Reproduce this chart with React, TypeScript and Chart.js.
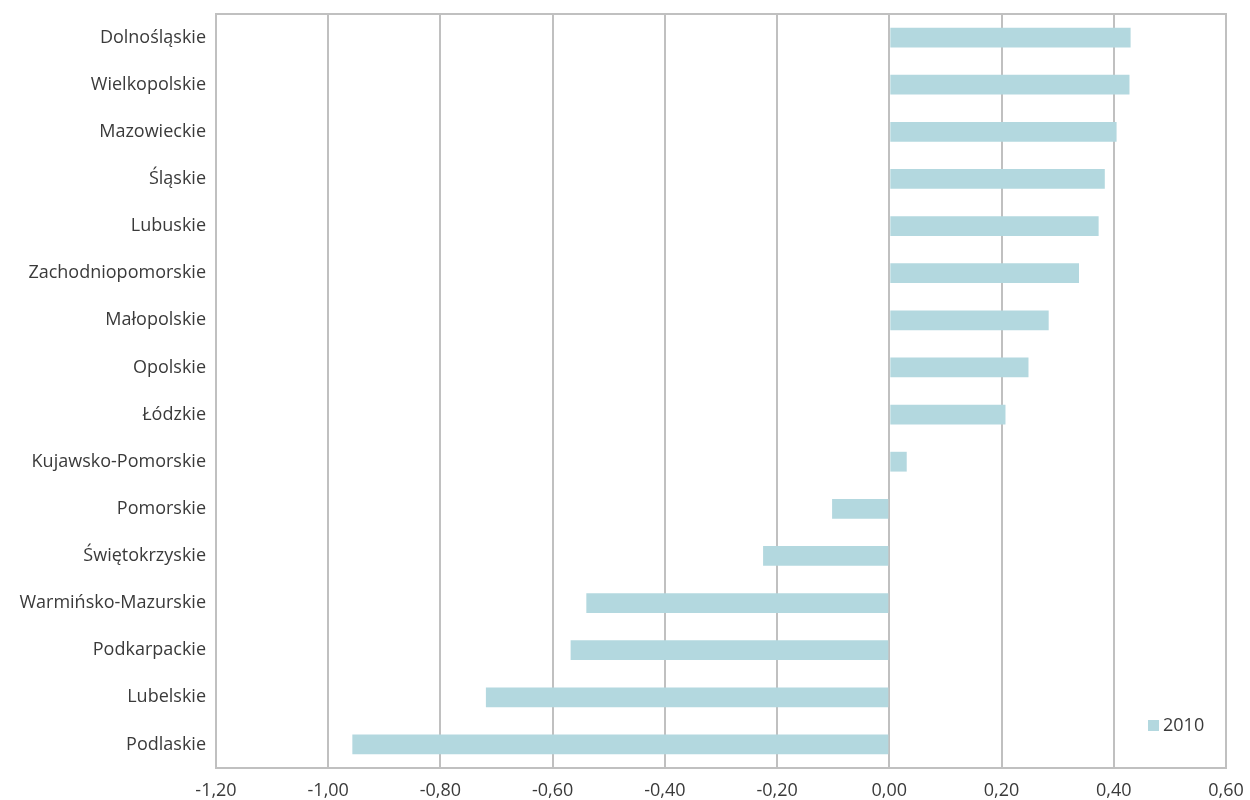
import React, { useEffect, useRef } from "react";
import { Chart, registerables } from "chart.js";

Chart.register(...registerables);

const categories = [
  "Dolnośląskie",
  "Wielkopolskie",
  "Mazowieckie",
  "Śląskie",
  "Lubuskie",
  "Zachodniopomorskie",
  "Małopolskie",
  "Opolskie",
  "Łódzkie",
  "Kujawsko-Pomorskie",
  "Pomorskie",
  "Świętokrzyskie",
  "Warmińsko-Mazurskie",
  "Podkarpackie",
  "Lubelskie",
  "Podlaskie",
];

const values2010 = [
  0.43, 0.428, 0.405, 0.384, 0.373, 0.338, 0.284, 0.248, 0.207, 0.031,
  -0.102, -0.225, -0.54, -0.568, -0.719, -0.957,
];

const seriesLabel = "2010";
const xMin = -1.2;
const xMax = 0.6;
const xStep = 0.2;

const FONT = "'Open Sans', Lato, sans-serif";
const TEXT = "#3a3a3a";
const GRID = "#c0c0c0";
const BAR = "#b3d8df";

export default function App() {
  const ref = useRef<HTMLCanvasElement | null>(null);

  useEffect(() => {
    if (!ref.current) return;
    const legendPlugin = {
      id: "insideLegend",
      afterDraw(chart: any) {
        const { ctx, chartArea } = chart;
        ctx.save();
        const x = chartArea.right - 78;
        const y = chartArea.bottom - 43;
        ctx.fillStyle = BAR;
        ctx.fillRect(x, y - 5, 11, 11);
        ctx.fillStyle = TEXT;
        ctx.font = `18px ${FONT}`;
        ctx.textBaseline = "middle";
        ctx.textAlign = "left";
        ctx.fillText(seriesLabel, x + 15, y + 1);
        ctx.restore();
      },
    };
    const borderPlugin = {
      id: "plotBorder",
      beforeDatasetsDraw(chart: any) {
        const { ctx, chartArea } = chart;
        ctx.save();
        ctx.strokeStyle = GRID;
        ctx.lineWidth = 2;
        ctx.strokeRect(
          chartArea.left,
          chartArea.top,
          chartArea.right - chartArea.left,
          chartArea.bottom - chartArea.top
        );
        ctx.restore();
      },
    };
    const chart = new Chart(ref.current, {
      type: "bar",
      data: {
        labels: categories,
        datasets: [
          {
            label: seriesLabel,
            data: values2010,
            backgroundColor: BAR,
            borderWidth: 0,
            barPercentage: 0.84,
            categoryPercentage: 0.5,
          },
        ],
      },
      options: {
        indexAxis: "y",
        animation: false,
        responsive: false,
        maintainAspectRatio: false,
        layout: { padding: { top: 14, right: 24, left: 0, bottom: 0 } },
        plugins: {
          legend: { display: false },
          tooltip: { enabled: false },
        },
        scales: {
          x: {
            min: xMin,
            max: xMax,
            ticks: {
              stepSize: xStep,
              color: TEXT,
              font: { family: FONT, size: 18 },
              padding: 12,
              callback: (v: any) => {
                const n = Math.abs(Number(v)) < 1e-9 ? 0 : Number(v);
                return n.toFixed(2).replace(".", ",");
              },
            },
            grid: { color: GRID, lineWidth: 2, drawTicks: false },
            border: { display: false },
            afterFit: (s: any) => {
              s.height = 32;
              s.paddingLeft = 0;
              s.paddingRight = 0;
            },
          },
          y: {
            ticks: {
              color: TEXT,
              font: { family: FONT, size: 18 },
              padding: 10,
            },
            grid: { display: false, drawTicks: false },
            border: { display: false },
            afterFit: (s: any) => {
              s.width = 216;
              s.paddingTop = 0;
              s.paddingBottom = 0;
            },
          },
        },
      },
      plugins: [borderPlugin, legendPlugin],
    });
    return () => chart.destroy();
  }, []);

  return (
    <div style={{ position: "absolute", left: 0, top: 0, width: 1250, height: 800, background: "#fff" }}>
      <canvas ref={ref} width={1250} height={800} style={{ width: 1250, height: 800 }} />
    </div>
  );
}
